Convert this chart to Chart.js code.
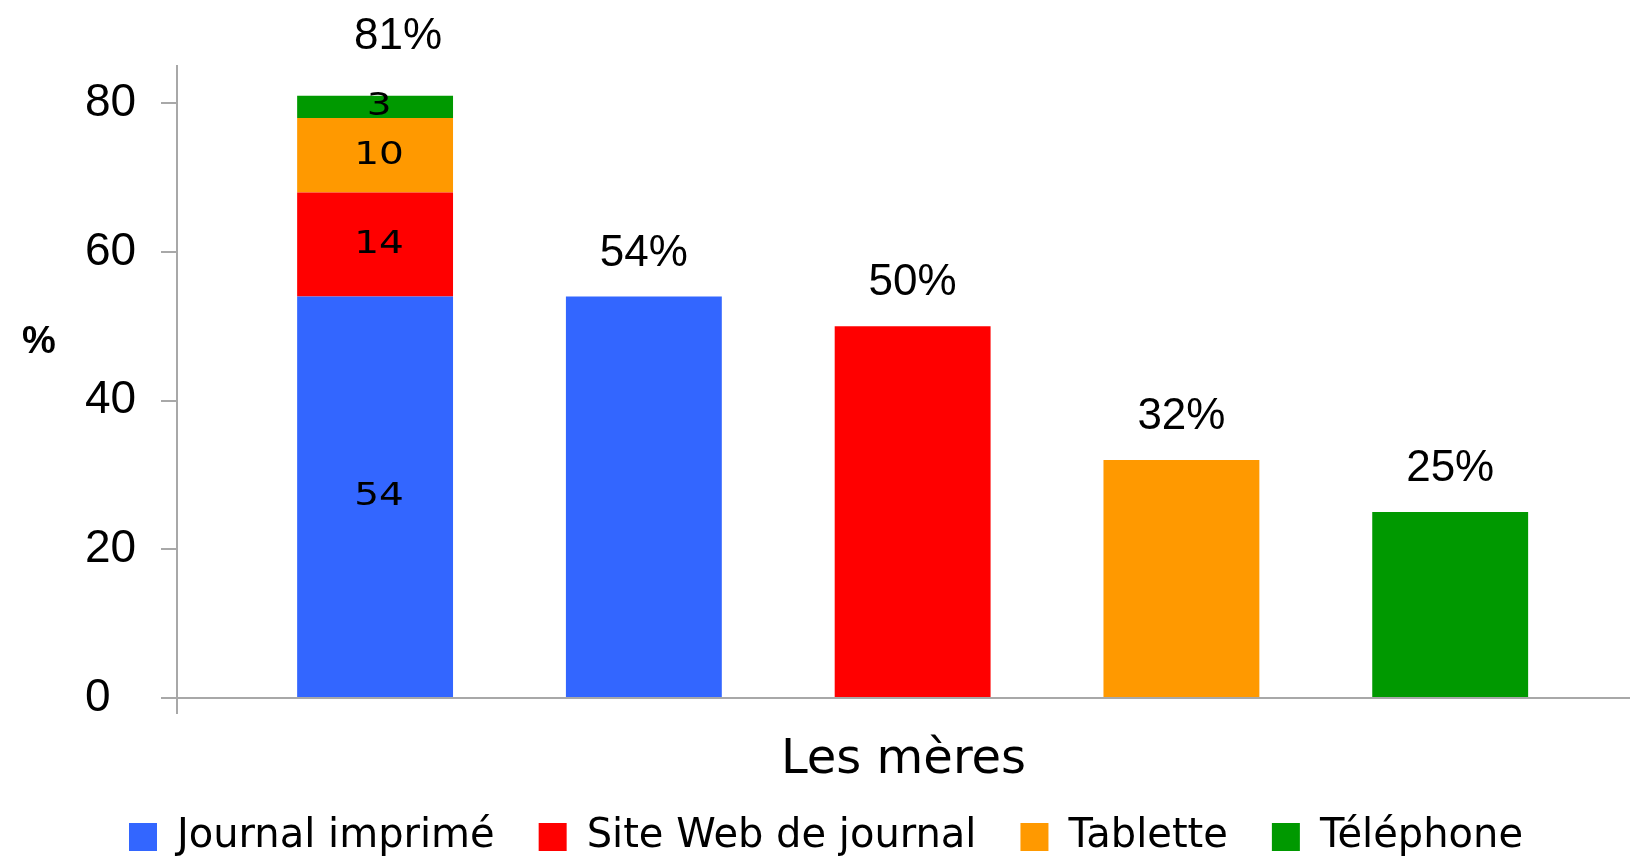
<!DOCTYPE html>
<html>
<head>
<meta charset="utf-8">
<script src="https://cdn.jsdelivr.net/npm/chart.js@4.4.1/dist/chart.umd.min.js"></script>
<style>
  html, body { margin: 0; padding: 0; background: #fff; }
  #wrap { width: 1630px; height: 867px; position: relative; }
</style>
</head>
<body>
<div id="wrap"><canvas id="mothers-chart"></canvas></div>
<script>
// column positions: 0 is the stacked column, 1..4 one column per medium
const columns = [0, 1, 2, 3, 4];
const seriesNames = ['Journal imprimé', 'Site Web de journal', 'Tablette', 'Téléphone'];
const seriesColors = ['#3366FF', '#FF0000', '#FF9900', '#009900'];
const stackedValues = [54, 14, 10, 3];
const singleValues = [54, 50, 32, 25];
const totals = [81, 54, 50, 32, 25];
const yTicks = [0, 20, 40, 60, 80];
const xTitle = 'Les mères';
const yTitle = '%';

const axisGrey = '#a8a8a8';
const arial = '"Liberation Sans", Arial, Helvetica, sans-serif';

const datasets = seriesNames.map((name, i) => ({
    label: name,
    data: [
        { x: columns[0], y: stackedValues[i] },
        { x: columns[i + 1], y: singleValues[i] }
    ],
    backgroundColor: seriesColors[i],
    borderWidth: 0,
    barPercentage: 0.58,
    categoryPercentage: 1
}));

const labelsPlugin = {
    id: 'labels',
    afterDatasetsDraw(chart) {
        const { ctx, scales: { x, y } } = chart;
        ctx.save();
        ctx.fillStyle = '#000';
        ctx.textAlign = 'center';
        ctx.textBaseline = 'middle';

        // numbers inside the stacked column (a bit wide, like the original)
        ctx.font = '32px "DejaVu Sans"';
        chart.data.datasets.forEach((ds, i) => {
            const bar = chart.getDatasetMeta(i).data[0];
            ctx.save();
            ctx.translate(bar.x + 4, (bar.y + bar.base) / 2);
            ctx.scale(1.22, 1);
            ctx.fillText(String(stackedValues[i]), 0, 0);
            ctx.restore();
        });

        // totals above the columns
        ctx.font = '44px ' + arial;
        totals.forEach((t, i) => {
            const lift = i === 0 ? 59 : 43;
            const shift = i === 0 ? 23 : 0;
            ctx.fillText(t + '%', x.getPixelForValue(columns[i]) + shift, y.getPixelForValue(t) - lift);
        });

        // y title, written horizontally
        ctx.font = 'bold 38px ' + arial;
        ctx.fillText(yTitle, 39, 343);
        ctx.restore();
    },
    afterDraw(chart) {
        const { ctx, chartArea } = chart;
        ctx.save();
        ctx.strokeStyle = axisGrey;
        ctx.lineWidth = 2;
        ctx.beginPath();
        ctx.moveTo(chartArea.left, chartArea.bottom);
        ctx.lineTo(chartArea.left, chartArea.bottom + 16);
        ctx.stroke();
        ctx.restore();
    }
};

let ctx = document.getElementById('mothers-chart');

var chart = new Chart(ctx, {
    type: 'bar',
    data: { datasets: datasets },
    options: {
        responsive: true,
        maintainAspectRatio: false,
        animation: false,
        layout: {
            padding: { top: 66, left: 85, right: 0, bottom: 0 }
        },
        scales: {
            x: {
                type: 'linear',
                stacked: true,
                offset: false,
                min: -0.737,
                max: 4.669,
                afterBuildTicks: s => { s.ticks = columns.map(v => ({ value: v })); },
                grid: { display: false, drawTicks: false },
                border: { display: true, color: axisGrey, width: 2 },
                ticks: { display: false },
                title: {
                    display: true,
                    text: xTitle,
                    color: '#000',
                    font: { family: 'DejaVu Sans', size: 48, lineHeight: 1 },
                    padding: { top: 38.5, bottom: -11.5 }
                }
            },
            y: {
                stacked: true,
                min: 0,
                max: 85,
                afterBuildTicks: s => { s.ticks = yTicks.map(v => ({ value: v })); },
                afterFit: s => { s.width = 92; },
                grid: {
                    drawOnChartArea: false,
                    drawTicks: true,
                    tickLength: 16,
                    color: axisGrey,
                    lineWidth: 2
                },
                border: { color: axisGrey, width: 2 },
                ticks: {
                    crossAlign: 'far',
                    color: '#000',
                    font: { family: arial, size: 46 }
                }
            }
        },
        plugins: {
            legend: {
                position: 'bottom',
                align: 'start',
                labels: {
                    boxWidth: 28,
                    boxHeight: 28,
                    padding: 44,
                    color: '#000',
                    font: { family: 'DejaVu Sans', size: 40 }
                }
            },
            tooltip: { enabled: false }
        }
    },
    plugins: [labelsPlugin]
});
</script>
</body>
</html>
